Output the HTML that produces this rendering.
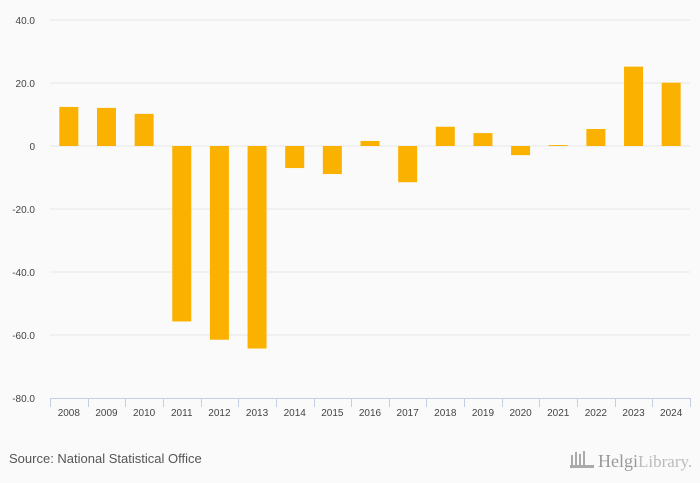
<!DOCTYPE html>
<html><head><meta charset="utf-8"><style>
body{margin:0;background:#fafafa;font-family:"Liberation Sans",sans-serif}
svg{display:block}
</style></head><body>
<svg id="chart" width="700" height="483">
<rect width="700" height="483" fill="#fafafa"/>
<g id="grid"></g><g id="bars"></g><g id="axis"></g>
<text x="9" y="463" font-size="13" fill="#555">Source: National Statistical Office</text>
<g>
<g fill="#aaa"><rect x="571" y="455" width="2" height="10"/><rect x="575" y="452" width="2" height="13"/><rect x="579" y="454" width="2" height="11"/><rect x="583" y="451" width="2" height="14"/><rect x="570" y="465" width="24" height="3"/></g>
<text x="598" y="467" font-size="18" fill="#999" font-family="Liberation Serif,serif">Helgi<tspan font-size="17" fill="#bbb">Library.</tspan></text>
</g>
</svg>
<script>
const categories=["2008","2009","2010","2011","2012","2013","2014","2015","2016","2017","2018","2019","2020","2021","2022","2023","2024"];
const values=[12.4,12.1,10.2,-55.7,-61.5,-64.3,-7.0,-8.9,1.6,-11.5,6.1,4.1,-2.9,0.3,5.4,25.2,20.1];
const yTicks=[40,20,0,-20,-40,-60,-80];
const yTickLabels=["40.0","20.0","0","-20.0","-40.0","-60.0","-80.0"];
const NS="http://www.w3.org/2000/svg";
const x0=50,x1=690,yTop=20,yBot=398,vMax=40,vMin=-80;
const y=v=>yTop+(vMax-v)/(vMax-vMin)*(yBot-yTop);
const bw=(x1-x0)/categories.length;
const xc=i=>x0+bw*(i+0.5);
function mk(t,a,p){const e=document.createElementNS(NS,t);for(const k in a)e.setAttribute(k,a[k]);p.appendChild(e);return e;}
const grid=document.getElementById('grid'),bars=document.getElementById('bars'),axis=document.getElementById('axis');
yTicks.forEach((v,i)=>{
 if(v!==vMin){const l=mk('line',{x1:x0,x2:x1,y1:y(v),y2:y(v),stroke:'#e6e6e6','stroke-width':1},grid);
 
 }
 const t=mk('text',{x:35,y:y(v)+4,'text-anchor':'end','font-size':10,fill:'#444'},axis);
 t.textContent=yTickLabels[i];
 
 
});
values.forEach((v,i)=>{
 const r=mk('rect',{x:xc(i)-9.5,width:19,y:Math.min(y(v),y(0)),height:Math.abs(y(v)-y(0)),fill:'#fbb100'},bars);
 
 
});
const al=mk('line',{x1:x0,x2:x1,y1:yBot+0.5,y2:yBot+0.5,stroke:'#c4cfe6'},axis);


for(let i=0;i<=categories.length;i++){
 const xx=Math.round(x0+bw*i)+0.5;
 const tk=mk('line',{x1:xx,x2:xx,y1:yBot,y2:yBot+9,stroke:'#c4cfe6'},axis);
 
 
}
categories.forEach((c,i)=>{
 const t=mk('text',{x:xc(i),y:416,'text-anchor':'middle','font-size':10,fill:'#444'},axis);
 t.textContent=c;
 
 
});
</script>
</body></html>
